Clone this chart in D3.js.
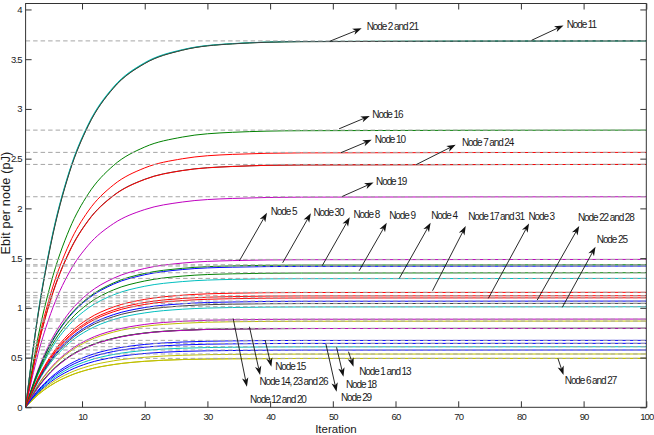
<!DOCTYPE html>
<html lang="en">
<head>
<meta charset="UTF-8">
<title>Ebit per node vs iteration</title>
<script src="https://d3js.org/d3.v7.min.js"></script>
<style>
  body { margin: 0; background: #fff; }
  svg text { font-family: "Liberation Sans", Arial, sans-serif; fill: #1a1a1a; }
  .tick text { font-size: 9.5px; letter-spacing: -0.9px; }
  .note { font-size: 10px; letter-spacing: -1.1px; }
  .axis-title { font-size: 11.5px; }
  .y-title { font-size: 12.5px; letter-spacing: 0.2px; }
</style>
</head>
<body>
<svg width="654" height="435"></svg>
<script>
const iterations = [1, 3, 5, 8, 11, 15, 20, 26, 34, 45, 100];

// Ebit per node (pJ) for every node, read at the iterations above
const node1  = [0, 0.147, 0.256, 0.370, 0.444, 0.502, 0.541, 0.562, 0.571, 0.575, 0.576];
const node2  = [0, 0.939, 1.639, 2.369, 2.837, 3.212, 3.459, 3.592, 3.655, 3.677, 3.684];
const node3  = [0, 0.281, 0.490, 0.708, 0.848, 0.960, 1.034, 1.073, 1.092, 1.099, 1.101];
const node4  = [0, 0.330, 0.577, 0.833, 0.998, 1.130, 1.217, 1.264, 1.286, 1.293, 1.296];
const node5  = [0, 0.379, 0.662, 0.956, 1.145, 1.297, 1.396, 1.450, 1.475, 1.484, 1.487];
const node6  = [0, 0.125, 0.219, 0.316, 0.379, 0.429, 0.462, 0.480, 0.488, 0.491, 0.492];
const node7  = [0, 0.623, 1.087, 1.570, 1.880, 2.129, 2.293, 2.381, 2.422, 2.437, 2.442];
const node8  = [0, 0.362, 0.632, 0.913, 1.093, 1.238, 1.333, 1.385, 1.409, 1.417, 1.420];
const node9  = [0, 0.345, 0.602, 0.870, 1.042, 1.180, 1.270, 1.319, 1.342, 1.350, 1.353];
const node10 = [0, 0.654, 1.141, 1.648, 1.974, 2.235, 2.407, 2.499, 2.543, 2.558, 2.563];
const node11 = [0, 0.950, 1.652, 2.380, 2.846, 3.220, 3.465, 3.596, 3.657, 3.678, 3.684];
const node12 = [0, 0.226, 0.395, 0.570, 0.683, 0.773, 0.833, 0.865, 0.880, 0.885, 0.887];
const node13 = [0, 0.137, 0.239, 0.345, 0.413, 0.467, 0.503, 0.523, 0.532, 0.535, 0.536];
const node14 = [0, 0.202, 0.353, 0.511, 0.611, 0.692, 0.746, 0.774, 0.788, 0.792, 0.794];
const node15 = [0, 0.172, 0.299, 0.433, 0.518, 0.587, 0.632, 0.656, 0.668, 0.672, 0.673];
const node16 = [0, 0.711, 1.240, 1.792, 2.146, 2.430, 2.617, 2.717, 2.765, 2.781, 2.787];
const node17 = [0, 0.295, 0.514, 0.743, 0.890, 1.008, 1.085, 1.127, 1.147, 1.154, 1.156];
const node18 = [0, 0.155, 0.271, 0.392, 0.469, 0.531, 0.572, 0.594, 0.604, 0.608, 0.609];
const node19 = [0, 0.540, 0.942, 1.361, 1.630, 1.846, 1.988, 2.064, 2.100, 2.113, 2.117];
const node20 = [0, 0.221, 0.386, 0.557, 0.668, 0.756, 0.814, 0.845, 0.860, 0.865, 0.867];
const node21 = [0, 0.930, 1.630, 2.362, 2.832, 3.208, 3.456, 3.590, 3.654, 3.676, 3.684];
const node22 = [0, 0.272, 0.475, 0.687, 0.822, 0.931, 1.003, 1.041, 1.059, 1.066, 1.068];
const node23 = [0, 0.205, 0.357, 0.514, 0.614, 0.694, 0.747, 0.775, 0.788, 0.792, 0.794];
const node24 = [0, 0.618, 1.080, 1.564, 1.876, 2.126, 2.291, 2.380, 2.421, 2.437, 2.442];
const node25 = [0, 0.258, 0.450, 0.650, 0.778, 0.882, 0.949, 0.986, 1.003, 1.009, 1.011];
const node26 = [0, 0.199, 0.350, 0.508, 0.609, 0.690, 0.745, 0.773, 0.787, 0.792, 0.794];
const node27 = [0, 0.127, 0.221, 0.318, 0.380, 0.430, 0.463, 0.480, 0.488, 0.491, 0.492];
const node28 = [0, 0.266, 0.465, 0.672, 0.805, 0.911, 0.981, 1.019, 1.037, 1.043, 1.045];
const node29 = [0, 0.164, 0.286, 0.413, 0.495, 0.561, 0.604, 0.627, 0.638, 0.642, 0.643];
const node30 = [0, 0.365, 0.638, 0.921, 1.103, 1.250, 1.346, 1.397, 1.422, 1.430, 1.433];
const node31 = [0, 0.286, 0.499, 0.721, 0.864, 0.978, 1.054, 1.094, 1.113, 1.120, 1.122];

const nodeSeries = [node1, node2, node3, node4, node5, node6, node7, node8, node9, node10,
  node11, node12, node13, node14, node15, node16, node17, node18, node19, node20,
  node21, node22, node23, node24, node25, node26, node27, node28, node29, node30, node31];

// steady-state levels (grey dashed reference lines)
const steadyLevels = [3.684, 2.787, 2.563, 2.442, 2.117, 1.487, 1.433, 1.420, 1.353, 1.296,
  1.156, 1.122, 1.101, 1.068, 1.045, 1.011, 0.887, 0.867, 0.794, 0.673, 0.643, 0.609,
  0.576, 0.536, 0.492];

const xTicks = [10, 20, 30, 40, 50, 60, 70, 80, 90, 100];
const yTicks = [0, 0.5, 1, 1.5, 2, 2.5, 3, 3.5, 4];

// matlab's old colour order, cycled by node number
const colorOrder = ["#0000ff", "#008000", "#ff0000", "#00bfbf", "#bf00bf", "#bfbf00", "#404040"];

// annotation arrows: tail on the curve, head next to the text (iteration, pJ)
const annotations = [
  {text: "Node 2 and 21",      tail: [49.5, 3.68],  head: [54.6, 3.81],  at: [55.4, 3.83]},
  {text: "Node 11",            tail: [81.7, 3.69],  head: [86.8, 3.84],  at: [87.3, 3.85]},
  {text: "Node 16",            tail: [51.0, 2.80],  head: [55.9, 2.93],  at: [56.3, 2.94]},
  {text: "Node 10",            tail: [51.3, 2.56],  head: [56.2, 2.69],  at: [56.7, 2.69]},
  {text: "Node 7 and 24",      tail: [63.3, 2.44],  head: [69.6, 2.64],  at: [70.6, 2.66]},
  {text: "Node 19",            tail: [51.5, 2.12],  head: [56.5, 2.26],  at: [56.9, 2.27]},
  {text: "Node 5",             tail: [35.1, 1.473], head: [39.5, 1.956], at: [40.1, 1.97]},
  {text: "Node 30",            tail: [42.0, 1.453], head: [46.5, 1.95],  at: [46.9, 1.96]},
  {text: "Node 8",             tail: [48.3, 1.423], head: [52.7, 1.91],  at: [53.3, 1.94]},
  {text: "Node 9",             tail: [54.2, 1.373], head: [58.6, 1.855], at: [59.0, 1.93]},
  {text: "Node 4",             tail: [60.6, 1.296], head: [65.6, 1.855], at: [65.7, 1.93]},
  {text: "Node 17 and 31",     tail: [65.9, 1.172], head: [71.2, 1.822], at: [71.6, 1.92]},
  {text: "Node 3",             tail: [74.8, 1.095], head: [81.3, 1.849], at: [81.2, 1.92]},
  {text: "Node 22 and 28",     tail: [82.6, 1.078], head: [89.3, 1.822], at: [89.1, 1.91]},
  {text: "Node 25",            tail: [86.6, 1.005], head: [91.9, 1.614], at: [92.1, 1.69]},
  {text: "Node 6 and 27",      tail: [85.9, 0.492], head: [86.8, 0.325], at: [87.0, 0.267]},
  {text: "Node 12 and 20",     tail: [34.1, 0.894], head: [36.3, 0.207], at: [36.8, 0.080]},
  {text: "Node 14, 23 and 26", tail: [36.7, 0.81],  head: [38.4, 0.325], at: [38.3, 0.257]},
  {text: "Node 15",            tail: [39.2, 0.676], head: [40.2, 0.408], at: [40.8, 0.408]},
  {text: "Node 29",            tail: [48.9, 0.636], head: [50.6, 0.157], at: [51.3, 0.10]},
  {text: "Node 18",            tail: [50.6, 0.603], head: [51.7, 0.308], at: [52.1, 0.234]},
  {text: "Node 1 and 13",      tail: [52.5, 0.559], head: [53.3, 0.408], at: [54.2, 0.358]}
];

const svg = d3.select("svg");
const plotLeft = 25.6, plotRight = 646.3, plotTop = 3.5, plotBottom = 407.3;

const x = d3.scaleLinear().domain([1, 100]).range([plotLeft, plotRight]);
const y = d3.scaleLinear().domain([0, 4.06]).range([plotBottom, plotTop]);

svg.append("clipPath").attr("id", "plot")
  .append("rect")
  .attr("x", plotLeft).attr("y", plotTop)
  .attr("width", plotRight - plotLeft).attr("height", plotBottom - plotTop);

const plot = svg.append("g").attr("clip-path", "url(#plot)");

// convergence curves, drawn in node order
const line = d3.line()
  .x((d, i) => x(iterations[i]))
  .y(d => y(d))
  .curve(d3.curveMonotoneX);

plot.selectAll("path.curve")
  .data(nodeSeries)
  .enter().append("path")
  .attr("class", "curve")
  .attr("d", line)
  .attr("fill", "none")
  .attr("stroke", (d, i) => colorOrder[i % colorOrder.length])
  .attr("stroke-width", 1);

// dashed steady-state lines over the curves
plot.selectAll("line.level")
  .data(steadyLevels)
  .enter().append("line")
  .attr("class", "level")
  .attr("x1", x(1)).attr("x2", x(100))
  .attr("y1", d => y(d)).attr("y2", d => y(d))
  .attr("stroke", "#a6a6a6")
  .attr("stroke-width", 1)
  .attr("stroke-dasharray", "4.5,3");

// axes: ticks pointing inward on all four sides
const tick = 6;
svg.append("g").attr("transform", `translate(0,${plotBottom})`)
  .call(d3.axisBottom(x).tickValues(xTicks).tickSize(-tick).tickPadding(6));
svg.append("g").attr("transform", `translate(0,${plotTop})`)
  .call(d3.axisTop(x).tickValues(xTicks).tickSize(-tick).tickFormat(""));
svg.append("g").attr("transform", `translate(${plotLeft},0)`)
  .call(d3.axisLeft(y).tickValues(yTicks).tickSize(-tick).tickPadding(4).tickFormat(d3.format("")));
svg.append("g").attr("transform", `translate(${plotRight},0)`)
  .call(d3.axisRight(y).tickValues(yTicks).tickSize(-tick).tickFormat(""));

svg.selectAll(".domain").remove();
svg.selectAll(".tick line").attr("stroke", "#333");
svg.selectAll(".tick text").attr("fill", "#1a1a1a");

svg.append("rect")
  .attr("x", plotLeft).attr("y", plotTop)
  .attr("width", plotRight - plotLeft).attr("height", plotBottom - plotTop)
  .attr("fill", "none")
  .attr("stroke", "#333")
  .attr("stroke-width", 1);

// annotation arrows
const notes = svg.append("g");
annotations.forEach(a => {
  const x0 = x(a.tail[0]), y0 = y(a.tail[1]);
  const x1 = x(a.head[0]), y1 = y(a.head[1]);
  const ang = Math.atan2(y1 - y0, x1 - x0);
  const len = 9, half = 3.2, notch = 6.5;
  const ux = Math.cos(ang), uy = Math.sin(ang);
  const bx = x1 - ux * len, by = y1 - uy * len;
  notes.append("line")
    .attr("x1", x0).attr("y1", y0)
    .attr("x2", x1 - ux * notch).attr("y2", y1 - uy * notch)
    .attr("stroke", "#111").attr("stroke-width", 0.9);
  notes.append("path")
    .attr("d", `M${x1},${y1}L${bx - uy * half},${by + ux * half}`
      + `L${x1 - ux * notch},${y1 - uy * notch}L${bx + uy * half},${by - ux * half}Z`)
    .attr("fill", "#111");
  notes.append("text")
    .attr("class", "note")
    .attr("x", x(a.at[0]))
    .attr("y", y(a.at[1]))
    .attr("dy", "0.35em")
    .text(a.text);
});

// axis titles
svg.append("text")
  .attr("class", "axis-title")
  .attr("x", (plotLeft + plotRight) / 2)
  .attr("y", 433)
  .attr("text-anchor", "middle")
  .text("Iteration");

svg.append("text")
  .attr("class", "y-title")
  .attr("transform", `translate(10,203) rotate(-90)`)
  .attr("text-anchor", "middle")
  .text("Ebit per node (pJ)");
</script>
</body>
</html>
